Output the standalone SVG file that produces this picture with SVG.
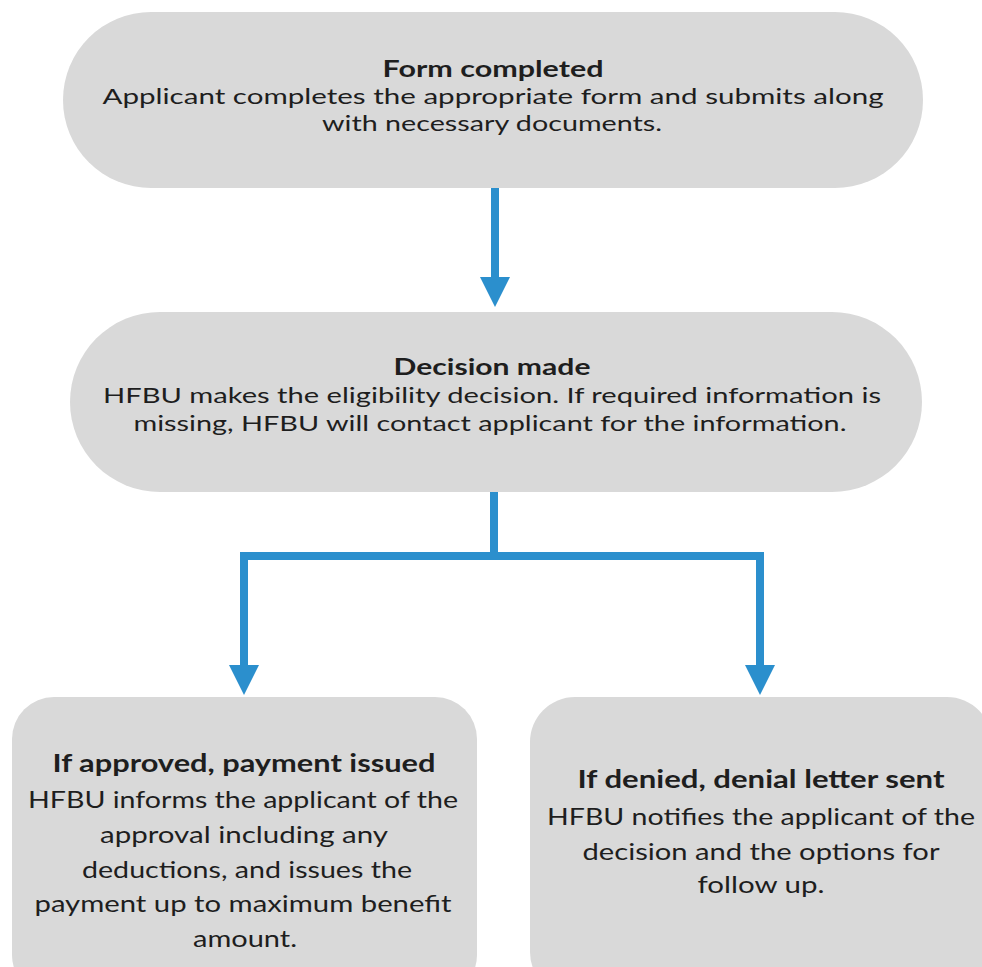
<svg xmlns="http://www.w3.org/2000/svg" width="982" height="967" viewBox="0 0 982 967">
<style>
.box{fill:#d9d9d9;}
.t{font-family:Lato,"Liberation Sans",sans-serif;fill:#1e1e1e;text-anchor:middle;}
.s{font-size:22px;}
.l{font-size:24px;}
.b{font-weight:bold;}
.c{fill:none;stroke:#2b8fcd;stroke-width:8;stroke-linejoin:miter;}
</style>
<defs>
<marker id="ah" markerUnits="userSpaceOnUse" viewBox="0 0 30 30" markerWidth="30" markerHeight="30" refX="0" refY="15" orient="auto">
<path d="M0,0 L30,15 L0,30 Z" fill="#2b8fcd"/>
</marker>
</defs>
<rect width="982" height="967" fill="#ffffff"/>
<g id="connectors">
<path class="c" d="M495,188 V277" marker-end="url(#ah)"/>
<path class="c" d="M494,492 V556 H244 V665" marker-end="url(#ah)"/>
<path class="c" d="M494,556 H760 V665" marker-end="url(#ah)"/>
</g>
<g id="form-completed">
<rect class="box" x="63" y="12" width="860" height="176" rx="88"/>
<text class="t s b" x="493" y="77" textLength="221" lengthAdjust="spacingAndGlyphs">Form completed</text>
<text class="t s" x="493" y="104" textLength="781" lengthAdjust="spacingAndGlyphs">Applicant completes the appropriate form and submits along</text>
<text class="t s" x="492" y="131" textLength="340" lengthAdjust="spacingAndGlyphs">with necessary documents.</text>
</g>
<g id="decision-made">
<rect class="box" x="70" y="312" width="852" height="180" rx="90"/>
<text class="t s b" x="492" y="375" textLength="197" lengthAdjust="spacingAndGlyphs">Decision made</text>
<text class="t s" x="492" y="403" textLength="778" lengthAdjust="spacingAndGlyphs">HFBU makes the eligibility decision. If required information is</text>
<text class="t s" x="490" y="431" textLength="713" lengthAdjust="spacingAndGlyphs">missing, HFBU will contact applicant for the information.</text>
</g>
<g id="approved">
<rect class="box" x="12" y="697" width="465" height="300" rx="42"/>
<text class="t l b" x="244" y="772" textLength="383" lengthAdjust="spacingAndGlyphs">If approved, payment issued</text>
<text class="t l" x="243" y="808" textLength="430" lengthAdjust="spacingAndGlyphs">HFBU informs the applicant of the</text>
<text class="t l" x="244" y="843" textLength="288" lengthAdjust="spacingAndGlyphs">approval including any</text>
<text class="t l" x="247" y="878" textLength="330" lengthAdjust="spacingAndGlyphs">deductions, and issues the</text>
<text class="t l" x="243" y="912" textLength="417" lengthAdjust="spacingAndGlyphs">payment up to maximum benefit</text>
<text class="t l" x="245" y="947" textLength="104" lengthAdjust="spacingAndGlyphs">amount.</text>
</g>
<g id="denied">
<rect class="box" x="530" y="697" width="462" height="300" rx="45"/>
<text class="t l b" x="761" y="788" textLength="367" lengthAdjust="spacingAndGlyphs">If denied, denial letter sent</text>
<text class="t l" x="761" y="825" textLength="428" lengthAdjust="spacingAndGlyphs">HFBU notifies the applicant of the</text>
<text class="t l" x="761" y="860" textLength="357" lengthAdjust="spacingAndGlyphs">decision and the options for</text>
<text class="t l" x="761" y="893" textLength="127" lengthAdjust="spacingAndGlyphs">follow up.</text>
</g>
</svg>
